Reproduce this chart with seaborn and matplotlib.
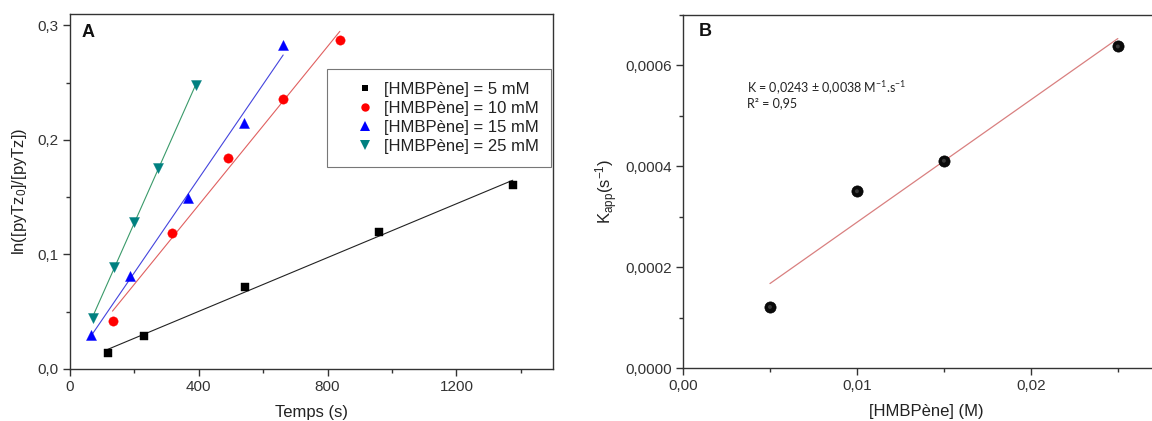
import numpy as np
import pandas as pd
import matplotlib
matplotlib.use("Agg")
import matplotlib.pyplot as plt
from matplotlib.ticker import FuncFormatter, MultipleLocator
from matplotlib.lines import Line2D
import seaborn as sns

# ---------------- data ----------------
# Panel A : ln([pyTz0]/[pyTz]) vs time for several [HMBPène]
series_labels = ["[HMBPène] = 5 mM", "[HMBPène] = 10 mM",
                 "[HMBPène] = 15 mM", "[HMBPène] = 25 mM"]
t_5mM = [117, 229, 542, 959, 1375]
y_5mM = [0.014, 0.029, 0.0717, 0.1195, 0.161]
t_10mM = [132, 318, 491, 660, 838]
y_10mM = [0.0423, 0.119, 0.184, 0.236, 0.287]
t_15mM = [64, 187, 365, 540, 662]
y_15mM = [0.030, 0.081, 0.149, 0.215, 0.2825]
t_25mM = [71, 138, 199, 274, 392]
y_25mM = [0.0443, 0.0895, 0.128, 0.1755, 0.248]

# Panel B : apparent rate constant vs [HMBPène]
conc_M = [0.005, 0.010, 0.015, 0.025]
k_app = [0.000121, 0.0003505, 0.000411, 0.0006376]

xticks_A = [0, 400, 800, 1200]
yticks_A = [0.0, 0.1, 0.2, 0.3]
xticks_B = [0.00, 0.01, 0.02]
yticks_B = [0.0, 0.0002, 0.0004, 0.0006]

# ---------------- style ----------------
sns.set_theme(style="white")
plt.rcParams["font.family"] = ["Liberation Sans", "DejaVu Sans"]
plt.rcParams["mathtext.default"] = "regular"
plt.rcParams["axes.edgecolor"] = "#333333"
plt.rcParams["xtick.color"] = "#333333"
plt.rcParams["ytick.color"] = "#333333"

fig = plt.figure(figsize=(11.52, 4.21), dpi=100)
axA = fig.add_axes([70 / 1152, (421 - 369) / 421, 483 / 1152, 355 / 421])
axB = fig.add_axes([683 / 1152, (421 - 368) / 421, 487 / 1152, 353 / 421])

# ---------------- panel A ----------------
ts = [t_5mM, t_10mM, t_15mM, t_25mM]
ys = [y_5mM, y_10mM, y_15mM, y_25mM]
mcolors = ["#000000", "#ff0000", "#0000ff", "#008080"]
lcolors = ["#222222", "#e06060", "#4444dd", "#3a9a6a"]
markers = ["s", "o", "^", "v"]
msizes = [30, 45, 52, 52]

handles = []
for t, y, lab, mc, lc, mk, ms in zip(ts, ys, series_labels, mcolors, lcolors, markers, msizes):
    df = pd.DataFrame({"t": t, "y": y})
    sns.regplot(data=df, x="t", y="y", ax=axA, scatter=False, ci=None,
                truncate=True, line_kws=dict(color=lc, lw=0.8))
    sns.scatterplot(data=df, x="t", y="y", ax=axA, marker=mk, s=ms,
                    color=mc, edgecolor=mc, linewidth=0.3, zorder=3)
    handles.append(Line2D([], [], ls="none", marker=mk, color=mc,
                          markersize=np.sqrt(ms) * 0.9, markeredgewidth=0))

axA.set_xlim(0, 1500)
axA.set_ylim(0, 0.31)
axA.set_xticks(xticks_A)
axA.set_yticks(yticks_A)
axA.xaxis.set_minor_locator(MultipleLocator(200))
axA.yaxis.set_minor_locator(MultipleLocator(0.05))
axA.xaxis.set_major_formatter(FuncFormatter(lambda v, p: f"{v:.0f}"))
axA.yaxis.set_major_formatter(FuncFormatter(lambda v, p: f"{v:.1f}".replace(".", ",")))
axA.set_xlabel("Temps (s)", fontsize=12, color="#222222", labelpad=8)
axA.set_ylabel("ln([pyTz$_0$]/[pyTz])", fontsize=12, color="#222222", labelpad=6)
axA.text(0.037, 0.949, "A", transform=axA.transAxes, fontsize=13,
         fontweight="bold", ha="center", va="center", color="#111111")
leg = axA.legend(handles=handles, labels=series_labels, loc="upper right",
                 bbox_to_anchor=(0.996, 0.845), borderaxespad=0, fontsize=12,
                 frameon=True, fancybox=False, edgecolor="#555555",
                 labelspacing=0.25, handletextpad=-0.35, handlelength=3.0,
                 borderpad=0.75)
leg.get_frame().set_linewidth(0.8)
for txt in leg.get_texts():
    txt.set_color("#222222")

# ---------------- panel B ----------------
dfB = pd.DataFrame({"c": conc_M, "k": k_app})
sns.regplot(data=dfB, x="c", y="k", ax=axB, scatter=False, ci=None,
            truncate=True, line_kws=dict(color="#d98080", lw=0.9))
sns.scatterplot(data=dfB, x="c", y="k", ax=axB, marker="o", s=65,
                color="#0a0a0a", edgecolor="#000000", linewidth=0.5, zorder=3)
sns.scatterplot(data=dfB, x="c", y="k", ax=axB, marker="o", s=8,
                color="#666666", edgecolor="none", linewidth=0, zorder=4,
                alpha=0.5)

axB.set_xlim(0, 0.028)
axB.set_ylim(0, 0.0007)
axB.set_xticks(xticks_B)
axB.set_yticks(yticks_B)
axB.xaxis.set_minor_locator(MultipleLocator(0.005))
axB.yaxis.set_minor_locator(MultipleLocator(0.0001))
axB.xaxis.set_major_formatter(FuncFormatter(lambda v, p: f"{v:.2f}".replace(".", ",")))
axB.yaxis.set_major_formatter(FuncFormatter(lambda v, p: f"{v:.4f}".replace(".", ",")))
axB.set_xlabel("[HMBPène] (M)", fontsize=12, color="#222222", labelpad=8)
axB.set_ylabel("K$_{app}$(s$^{-1}$)", fontsize=12, color="#222222", labelpad=4)
axB.text(0.045, 0.952, "B", transform=axB.transAxes, fontsize=13,
         fontweight="bold", ha="center", va="center", color="#111111")
axB.text(0.131, 0.793, "K = 0,0243 ± 0,0038 M$^{-1}$.s$^{-1}$", transform=axB.transAxes,
         fontsize=9, ha="left", va="center", color="#222222",
         family=["Lato", "DejaVu Sans"])
axB.text(0.131, 0.751, "R² = 0,95", transform=axB.transAxes,
         fontsize=9, ha="left", va="center", color="#222222",
         family=["Lato", "DejaVu Sans"])

for ax in (axA, axB):
    for s in ax.spines.values():
        s.set_linewidth(1.0)
        s.set_color("#333333")
    ax.tick_params(which="major", direction="out", length=5, width=1.0,
                   labelsize=11, pad=3, bottom=True, left=True, labelcolor="#333333")
    ax.tick_params(which="minor", direction="out", length=3, width=1.0,
                   bottom=True, left=True)

fig.savefig("out.png", dpi=100)
